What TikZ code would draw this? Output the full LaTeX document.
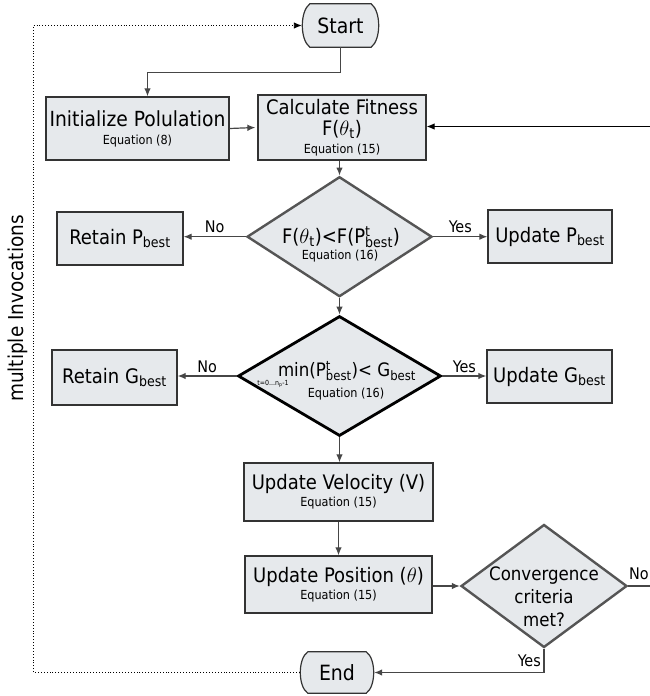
\documentclass[tikz,border=0pt]{standalone}
\usepackage{fontspec}
\setmainfont{DejaVu Sans Condensed}
\usetikzlibrary{shapes.geometric,arrows.meta,calc,backgrounds}
\definecolor{boxfill}{RGB}{230,233,236}
\definecolor{boxline}{RGB}{51,51,51}
\definecolor{diagray}{RGB}{85,85,85}
\definecolor{conngray}{RGB}{70,70,70}
\newcommand\eqn[1]{{\fontsize{12.5}{14}\selectfont #1}}
\newcommand\best{\textsubscript{best}}
\newcommand\Pbest{P\rlap{\textsuperscript{t}}\textsubscript{best}}
\newcommand\drawterm[1]{%
  \draw[draw=boxline, fill=boxfill, line width=1.2pt]
    ($(#1.north west)+(8,0)$) -- ($(#1.north east)+(-8,0)$)
    .. controls ($(#1.east)+(2,-14)$) and ($(#1.east)+(2,14)$) .. ($(#1.south east)+(-8,0)$)
    -- ($(#1.south west)+(8,0)$)
    .. controls ($(#1.west)+(-2,14)$) and ($(#1.west)+(-2,-14)$) .. cycle;}
\begin{document}
\begin{tikzpicture}[x=1pt,y=-1pt,
  box/.style={draw=boxline, fill=boxfill, line width=1.3pt, inner sep=0pt, align=center, font=\fontsize{20}{22}\selectfont},
  dia/.style={diamond, fill=boxfill, inner sep=0pt, line width=2.4pt},
  term/.style={inner sep=0pt, font=\fontsize{21}{22}\selectfont},
  conn/.style={draw=conngray, line width=1.2pt, -{Latex[length=8pt,width=6.5pt]}},
  plain/.style={draw=conngray, line width=1.2pt},
  dotline/.style={draw=black, line width=0.9pt, dotted, -{Latex[length=8pt,width=6.5pt]}},
  lbl/.style={font=\fontsize{16}{18}\selectfont, inner sep=0pt},
  txt/.style={font=\fontsize{20}{22}\selectfont, align=center, inner sep=0pt}]
\useasboundingbox (0,0) rectangle (650,696);

% terminals
\node[term, minimum width=77pt, minimum height=43pt] (start) at (340.5,25.5) {Start};
\node[term, minimum width=74pt, minimum height=41pt] (end) at (337,672.5) {End};
\begin{scope}[on background layer]
  \drawterm{start}
  \drawterm{end}
\end{scope}

% boxes
\node[box, minimum width=183pt, minimum height=63pt, font=\fontsize{20.8}{22}\selectfont] (init) at (137.5,128.5) {Initialize Polulation\\[-4pt]\eqn{Equation (8)}};
\node[box, minimum width=168pt, minimum height=65pt] (calc) at (342,127.5) {Calculate Fitness\\[-1pt]F($\theta$\textsubscript{t})\\[-4pt]\eqn{Equation (15)}};
\node[box, minimum width=126pt, minimum height=53pt] (rp) at (120,238.5) {Retain P\best};
\node[box, minimum width=124pt, minimum height=53pt] (up) at (550,236.5) {Update P\best};
\node[box, minimum width=125pt, minimum height=55pt] (rg) at (114.5,377.5) {Retain G\best};
\node[box, minimum width=125pt, minimum height=53pt] (ug) at (549.5,376.5) {Update G\best};
\node[box, minimum width=189pt, minimum height=58pt] (vel) at (338.5,492) {Update Velocity (V)\\[-5pt]\eqn{Equation (15)}};
\node[box, minimum width=187pt, minimum height=57pt] (pos) at (338.5,584.5) {Update Position ($\theta$)\\[-5pt]\eqn{Equation (15)}};

% diamonds
\node[dia, draw=diagray, minimum width=185pt, minimum height=120pt] (d1) at (339.5,236.7) {};
\node[dia, draw=black, line width=2.8pt, minimum width=203pt, minimum height=120pt] (d2) at (339.5,376) {};
\node[dia, draw=diagray, minimum width=166pt, minimum height=123pt] (d3) at (544,586) {};

\node[txt] (d1a) at (341,237) {F($\theta$\textsubscript{t})<F(\Pbest)};
\node[txt] (d1b) at (340,256) {\eqn{Equation (16)}};
\node[txt, font=\fontsize{18.5}{22}\selectfont] (d2a) at (347,371) {min(\Pbest)< G\best};
\node[txt, font=\fontsize{7}{8}\selectfont] (d2s) at (273,384) {t=0...n\textsubscript{p}-1};
\node[txt] (d2b) at (346,394) {\eqn{Equation (16)}};
\node[txt, font=\fontsize{18.5}{23}\selectfont] (d3a) at (544,597) {Convergence\\criteria\\met?};

% side label
\node[rotate=90, font=\fontsize{20.5}{22}\selectfont, inner sep=0pt] (mi) at (18,308.5) {multiple Invocations};

% connectors
\draw[conn] (start.south) -- ++(0,25) -| ([xshift=10pt]init.north);
\draw[conn] (init.east) -- ([xshift=-2pt]calc.west);
\coordinate (rin) at (650,126.5);
\draw[conn, draw=black, line width=1pt] (rin) -- (rin -| calc.east);
\draw[conn] (d1.north |- calc.south) -- (d1.north);
\draw[conn] (d1.west) -- (d1.west -| rp.east) node[lbl, midway, above=3pt] (no1) {No};
\draw[conn] (d1.east) -- (d1.east -| up.west) node[lbl, midway, above=3pt] (yes1) {Yes};
\draw[conn] (d1.south) -- (d2.north);
\draw[conn] (d2.west) -- (d2.west -| rg.east) node[lbl, midway, above=3pt] (no2) {No};
\draw[conn] (d2.east) -- (d2.east -| ug.west) node[lbl, midway, above=3pt] (yes2) {Yes};
\draw[conn] (d2.south) -- (d2.south |- vel.north);
\draw[conn] (vel.south) -- (pos.north);
\draw[conn] (d3.west -| pos.east) -- (d3.west);
\coordinate (rout) at (650,586);
\draw[plain] (d3.east) -- (d3.east -| rout);
\node[lbl, anchor=west] (no3) at (629,574) {No};
\draw[conn] (d3.south) |- (end.east);
\node[lbl, anchor=east] (yes3) at (541,661) {Yes};
\coordinate (loopx) at (33.5,0);
\draw[dotline] (end.west) -- (end.west -| loopx) -- (start.west -| loopx) -- (start.west);
\end{tikzpicture}
\end{document}
